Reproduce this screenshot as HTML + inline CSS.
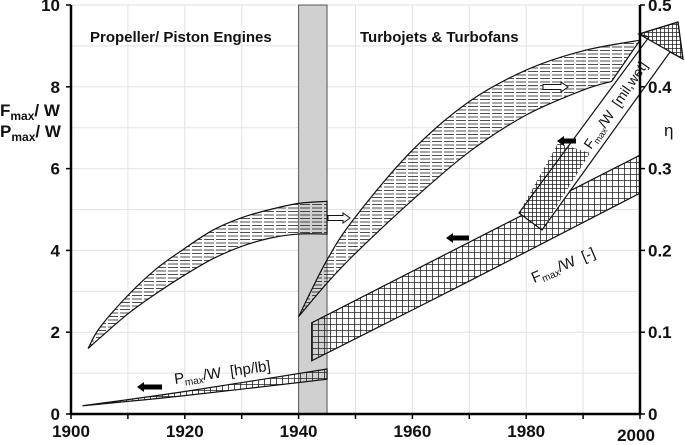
<!DOCTYPE html>
<html><head><meta charset="utf-8"><style>
html,body{margin:0;padding:0;background:#fff;}
svg{display:block;font-family:"Liberation Sans",Arial,sans-serif;}
.tk{font-weight:bold;font-size:17px;fill:#111;}
</style></head><body>
<svg id="c" width="685" height="445" viewBox="0 0 685 445">
<defs>
<pattern id="hl" width="12" height="3.5" patternUnits="userSpaceOnUse"><line x1="0" y1="1.5" x2="10" y2="1.5" stroke="#222" stroke-width="0.8"/></pattern>
<pattern id="xh" width="6" height="6" patternUnits="userSpaceOnUse"><path d="M0 0.5H6M0.5 0V6" stroke="#222" stroke-width="0.8" fill="none"/></pattern>
<pattern id="xh2" width="4" height="4" patternUnits="userSpaceOnUse"><path d="M0 0.5H4M0.5 0V4" stroke="#222" stroke-width="0.8" fill="none"/></pattern>
</defs>
<g id="grid"></g>
<rect id="band" fill="#d0d0d0" stroke="#555" stroke-width="1"/>
<g id="marks"></g>
<g id="axes"></g>
<text x="90" y="42" font-weight="bold" font-size="15" fill="#111">Propeller/ Piston Engines</text>
<text x="360" y="42" font-weight="bold" font-size="15" fill="#111">Turbojets &amp; Turbofans</text>
<text x="0" y="116" font-weight="bold" font-size="17" fill="#111">F<tspan font-size="12" dy="4">max</tspan><tspan dy="-4">/ W</tspan></text>
<text x="0" y="137" font-weight="bold" font-size="17" fill="#111">P<tspan font-size="12" dy="4">max</tspan><tspan dy="-4">/ W</tspan></text>
<text x="664" y="136" font-size="17" fill="#111">η</text>
<text transform="translate(175,384) rotate(-8)" font-size="15" fill="#111">P<tspan font-size="10" dy="3">max</tspan><tspan dy="-3">/W</tspan><tspan dx="9">[hp/lb]</tspan></text>
<text transform="translate(534,283) rotate(-23)" font-size="15" fill="#111">F<tspan font-size="10" dy="3">max</tspan><tspan dy="-3">/W</tspan><tspan dx="8">[-]</tspan></text>
<text transform="translate(591,150) rotate(-56)" font-size="14" fill="#111">F<tspan font-size="9" dy="3">max</tspan><tspan dy="-3">/W</tspan><tspan dx="8">[mil,wet]</tspan></text>
</svg>
<script>
const xTicks=[1900,1920,1940,1960,1980,2000];
const yTicks=[0,2,4,6,8,10];
const etaTicks=["0","0.1","0.2","0.3","0.4","0.5"];
const propUpper=[[1903,1.6],[1905,2.1],[1910,2.9],[1915,3.55],[1920,4.05],[1925,4.5],[1930,4.8],[1935,5.0],[1940,5.15],[1945,5.2]];
const propLower=[[1903,1.6],[1905,1.85],[1910,2.45],[1915,2.95],[1920,3.4],[1925,3.8],[1930,4.1],[1935,4.3],[1940,4.4],[1945,4.4]];
const turboUpper=[[1940,2.38],[1945,3.77],[1950,4.82],[1960,6.45],[1970,7.64],[1980,8.41],[1990,8.88],[2000,9.14]];
const turboLower=[[1940,2.38],[1945,3.2],[1950,3.93],[1960,5.23],[1970,6.41],[1980,7.31],[1990,7.92],[1995,8.13]];
const fmaxUpper=[[1942.3,2.23],[1970,4.2],[2000,6.33]];
const fmaxLower=[[1942.3,1.3],[1970,3.25],[2000,5.4]];
const pmaxUpper=[[1902,0.2],[1920,0.55],[1945,1.1]];
const pmaxLower=[[1902,0.2],[1920,0.45],[1945,0.85]];
const X=y=>71+(y-1900)*5.69, Y=v=>414-v*40.9;
const NS="http://www.w3.org/2000/svg";
function mk(t,a,p){const e=document.createElementNS(NS,t);for(const k in a)e.setAttribute(k,a[k]);(p||document.getElementById('marks')).appendChild(e);return e;}
function curve(pts){const P=pts.map(p=>[X(p[0]),Y(p[1])]);let d="";for(let i=0;i<P.length-1;i++){const p0=P[Math.max(i-1,0)],p1=P[i],p2=P[i+1],p3=P[Math.min(i+2,P.length-1)];const c1=[p1[0]+(p2[0]-p0[0])/6,p1[1]+(p2[1]-p0[1])/6],c2=[p2[0]-(p3[0]-p1[0])/6,p2[1]-(p3[1]-p1[1])/6];d+=(i?"":"M"+p1)+"C"+c1+" "+c2+" "+p2;}return d;}
function bandPath(u,l){const lr=curve(l.slice().reverse());return curve(u)+"L"+lr.slice(1);}
const grid=document.getElementById('grid');
for(let yr=1900;yr<=2000;yr+=10){const g=mk('line',{x1:X(yr),x2:X(yr),y1:5,y2:414,stroke:'#e2e2e2','stroke-width':1},grid);}
for(let v=0;v<=10;v++){const g=mk('line',{x1:71,x2:640,y1:Y(v),y2:Y(v),stroke:'#e2e2e2','stroke-width':1},grid);}
const b=document.getElementById('band');b.setAttribute('x',X(1940));b.setAttribute('y',5);b.setAttribute('width',X(1945)-X(1940));b.setAttribute('height',409);
const bands=[[propUpper,propLower,'url(#hl)','propeller-efficiency-band'],[turboUpper,turboLower,'url(#hl)','turbo-efficiency-band'],[fmaxUpper,fmaxLower,'url(#xh)','fmax-band'],[pmaxUpper,pmaxLower,'url(#xh)','pmax-band']];
bands.forEach(s=>{const e=mk('path',{d:bandPath(s[0],s[1])+"Z",fill:s[2],stroke:'#111','stroke-width':1.2});});
const bg=mk('path',{d:"M519,213L542,230L670,52L649,37Z",fill:'#fff',stroke:'none'});
const aw=mk('path',{d:"M519,213L542,230L590,153L558,143Z",fill:'url(#xh2)',stroke:'none'});
const ah=mk('path',{d:"M519,213L542,230L670,52L683,59L678,22L639,34L649,37Z",fill:'none',stroke:'#111','stroke-width':1.2});
const ahh=mk('path',{d:"M683,59L678,22L639,34Z",fill:'url(#xh2)',stroke:'#111','stroke-width':1.2});
[[162,387,137],[469,238,446],[576,141,557]].forEach(a=>{const e=mk('path',{d:`M${a[0]},${a[1]-2.5}H${a[2]+7}V${a[1]-5}L${a[2]},${a[1]}L${a[2]+7},${a[1]+5}V${a[1]+2.5}H${a[0]}Z`,fill:'#000'});});
[[328,218,350],[543,87,568]].forEach(a=>{const e=mk('path',{d:`M${a[0]},${a[1]-2.5}H${a[2]-7}V${a[1]-5}L${a[2]},${a[1]}L${a[2]-7},${a[1]+5}V${a[1]+2.5}H${a[0]}Z`,fill:'#fff',stroke:'#111','stroke-width':1});});
const ax=document.getElementById('axes');
[[71,5,71,415],[70,414,641,414],[640,5,640,415]].forEach(l=>{const e=mk('line',{x1:l[0],y1:l[1],x2:l[2],y2:l[3],stroke:'#000','stroke-width':2.5},ax);});
for(let yr=1900;yr<=2000;yr+=10){mk('line',{x1:X(yr),x2:X(yr),y1:414,y2:419,stroke:'#000','stroke-width':1.5},ax);}
for(let v=0;v<=10;v+=2){mk('line',{x1:66,x2:71,y1:Y(v),y2:Y(v),stroke:'#000','stroke-width':1.5},ax);mk('line',{x1:640,x2:645,y1:Y(v),y2:Y(v),stroke:'#000','stroke-width':1.5},ax);}
xTicks.forEach((t,i)=>{const e=mk('text',{x:X(t)+(i==5?-4:0),y:i==5?441:437,'text-anchor':'middle',class:'tk'},ax);e.textContent=t;});
yTicks.forEach(t=>{const e=mk('text',{x:60,y:Y(t)+6,'text-anchor':'end',class:'tk'},ax);e.textContent=t;});
etaTicks.forEach((t,i)=>{const e=mk('text',{x:648,y:Y(i*2)+6,class:'tk'},ax);e.textContent=t;});
</script>
</body></html>
